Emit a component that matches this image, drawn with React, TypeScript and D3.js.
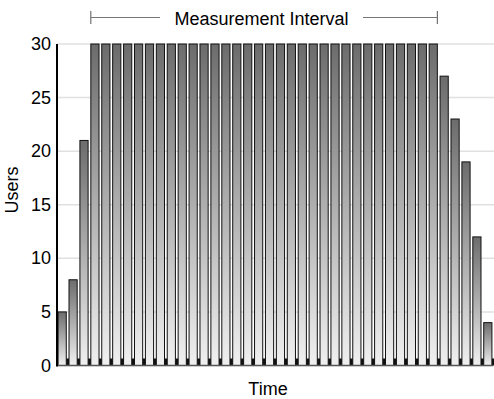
import React from 'react';
import * as d3 from 'd3';

// one value per time slot
const users = [
  5, 8, 21,
  30, 30, 30, 30, 30, 30, 30, 30, 30, 30, 30, 30, 30, 30, 30, 30,
  30, 30, 30, 30, 30, 30, 30, 30, 30, 30, 30, 30, 30, 30, 30, 30,
  27, 23, 19, 12, 4,
];
const yTicks = [0, 5, 10, 15, 20, 25, 30];
const intervalStart = 3;
const intervalEnd = 34;

const width = 494;
const height = 399;
const left = 57;
const right = 493;
const top = 44;
const bottom = 365.5;
const font = 'Liberation Sans, Arial, Helvetica, sans-serif';

export default function App() {
  const x = d3.scaleBand<number>()
    .domain(users.map((_, i) => i))
    .range([left, right])
    .paddingInner(0.25)
    .paddingOuter(0.1);

  const y = d3.scaleLinear().domain([0, 30]).range([bottom, top]);
  const bw = x.bandwidth();

  const x0 = x(intervalStart)!;
  const x1 = x(intervalEnd)! + bw;

  return (
    <svg width={width} height={height} style={{ position: 'absolute', left: 0, top: 0 }}>
      <defs>
        <linearGradient id="barFill" x1="0" y1="0" x2="0" y2="1">
          <stop offset="0%" stopColor="#6c6c6c" />
          <stop offset="100%" stopColor="#f0f0f0" />
        </linearGradient>
      </defs>
      <rect width={width} height={height} fill="#fff" />

      {/* grid */}
      {yTicks.map(t => (
        <line key={t} x1={left} x2={width} y1={y(t)} y2={y(t)} stroke="#e0e0e0" strokeWidth={1.5} />
      ))}

      {/* bars */}
      {users.map((v, i) => (
        <rect key={i} x={x(i)} y={y(v)} width={bw} height={bottom - y(v)}
          fill="url(#barFill)" stroke="#111" strokeWidth={1} />
      ))}

      {/* little dark blocks between bars */}
      {users.map((_, i) => (
        <rect key={'g' + i} x={x(i)! + bw} y={bottom - 7} width={x.step() - bw} height={7} fill="#111" />
      ))}

      <line x1={left} x2={right} y1={bottom} y2={bottom} stroke="#555" strokeWidth={1.5} />
      <line x1={left} x2={left} y1={top} y2={bottom + 1} stroke="#000" strokeWidth={2} />

      {yTicks.map(t => (
        <text key={'t' + t} x={51} y={y(t)} textAnchor="end" dominantBaseline="central"
          fontFamily={font} fontSize={18} fill="#000">{t}</text>
      ))}

      <text transform="translate(18,190) rotate(-90)" textAnchor="middle"
        fontFamily={font} fontSize={18} fill="#000">Users</text>
      <text x={268} y={395} textAnchor="middle" fontFamily={font} fontSize={18} fill="#000">Time</text>

      {/* measurement interval marker */}
      <line x1={x0} x2={x0} y1={11} y2={24} stroke="#555" strokeWidth={1} />
      <line x1={x0} x2={160} y1={17.5} y2={17.5} stroke="#777" strokeWidth={1} />
      <line x1={x1} x2={x1} y1={11} y2={24} stroke="#555" strokeWidth={1} />
      <line x1={363} x2={x1} y1={17.5} y2={17.5} stroke="#777" strokeWidth={1} />
      <text x={261.5} y={25} textAnchor="middle" fontFamily={font} fontSize={18} fill="#000">Measurement Interval</text>
    </svg>
  );
}
